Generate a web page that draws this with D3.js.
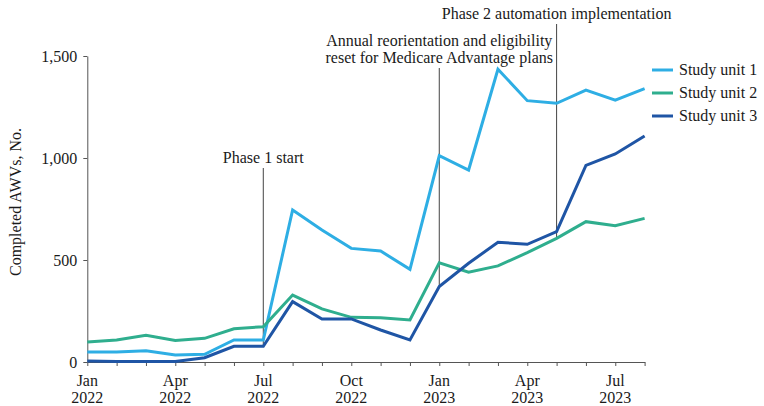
<!DOCTYPE html>
<html>
<head>
<meta charset="utf-8">
<script src="https://cdn.jsdelivr.net/npm/d3@7"></script>
<style>
  html, body { margin: 0; padding: 0; background: #fff; }
  svg { display: block; }
  text { font-family: "Liberation Serif", "Times New Roman", serif; fill: #1a1a1a; }
</style>
</head>
<body>
<svg id="chart" width="764" height="406"></svg>
<script>
// ---- Data ----
const months = ["Jan 2022","Feb 2022","Mar 2022","Apr 2022","May 2022","Jun 2022","Jul 2022","Aug 2022","Sep 2022","Oct 2022","Nov 2022","Dec 2022",
                "Jan 2023","Feb 2023","Mar 2023","Apr 2023","May 2023","Jun 2023","Jul 2023","Aug 2023"];
const seriesNames = ["Study unit 1", "Study unit 2", "Study unit 3"];
const unit1 = [49, 49, 55, 34, 38, 108, 108, 745, 647, 557, 544, 454, 1011, 941, 1435, 1281, 1268, 1333, 1284, 1340];
const unit2 = [98, 108, 131, 106, 116, 163, 173, 328, 260, 219, 217, 206, 486, 440, 471, 536, 606, 688, 668, 704];
const unit3 = [5, 3, 2, 2, 21, 77, 77, 296, 211, 211, 157, 108, 370, 484, 587, 577, 639, 964, 1020, 1108];
const yTicks = [0, 500, 1000, 1500];
const xTickLabels = [["Jan","2022"],["Apr","2022"],["Jul","2022"],["Oct","2022"],["Jan","2023"],["Apr","2023"],["Jul","2023"]];
const xLabelIndex = [0, 3, 6, 9, 12, 15, 18];
const annotations = [
  { month: "Jul 2022", lines: ["Phase 1 start"] },
  { month: "Jan 2023", lines: ["Annual reorientation and eligibility", "reset for Medicare Advantage plans"] },
  { month: "May 2023", lines: ["Phase 2 automation implementation"] }
];
const colors = ["#2eaee4", "#2fae8e", "#1f55a5"];

// ---- Layout ----
const svg = d3.select("#chart");
const x = d3.scaleLinear().domain([0, months.length - 1]).range([87.3, 644.6]);
const y = d3.scaleLinear().domain([0, 1500]).range([362, 56]);
const fs = 16;

// Y axis
const yAxis = svg.append("g").attr("transform", `translate(${x(0)},0)`)
  .call(d3.axisLeft(y).tickValues(yTicks).tickFormat(d3.format(",")).tickSize(4).tickSizeOuter(0));
yAxis.select(".domain").attr("stroke", "#555");
yAxis.selectAll(".tick line").attr("stroke", "#555");
yAxis.selectAll(".tick text").attr("font-size", fs).attr("font-family", "Liberation Serif").attr("x", -10).attr("fill", "#1a1a1a");

// X axis
const xAxis = svg.append("g").attr("transform", `translate(0,${y(0)})`)
  .call(d3.axisBottom(x).tickValues(d3.range(months.length)).tickFormat("").tickSize(4).tickSizeOuter(0));
xAxis.select(".domain").attr("stroke", "#555");
xAxis.selectAll(".tick line").attr("stroke", "#555");
const xl = svg.append("g");
xLabelIndex.forEach((mi, k) => {
  const t = xl.append("text").attr("text-anchor", "middle").attr("font-size", fs)
    .attr("transform", `translate(${x(mi)},0)`);
  t.append("tspan").attr("x", 0).attr("y", 386).text(xTickLabels[k][0]);
  t.append("tspan").attr("x", 0).attr("y", 403).text(xTickLabels[k][1]);
});

// Y axis title
svg.append("text").attr("transform", `translate(21,202) rotate(-90)`)
  .attr("text-anchor", "middle").attr("font-size", fs).text("Completed AWVs, No.");

// Annotation lines
const all = [unit1, unit2, unit3];
const annTop = { "Jul 2022": 168, "Jan 2023": 68, "May 2023": 24 };
const annTextY = { "Jul 2022": [163], "Jan 2023": [46, 63], "May 2023": [19] };
annotations.forEach(a => {
  const i = months.indexOf(a.month);
  const minV = d3.min(all, s => s[i]);
  svg.append("line").attr("x1", x(i)).attr("x2", x(i))
    .attr("y1", annTop[a.month]).attr("y2", y(minV))
    .attr("stroke", "#444").attr("stroke-width", 1);
  a.lines.forEach((ln, j) => {
    svg.append("text").attr("x", x(i)).attr("y", annTextY[a.month][j])
      .attr("text-anchor", "middle").attr("font-size", fs).text(ln);
  });
});

// Lines
const line = d3.line().x((d, i) => x(i)).y(d => y(d));
all.forEach((s, k) => {
  svg.append("path").datum(s).attr("d", line).attr("fill", "none")
    .attr("stroke", colors[k]).attr("stroke-width", 3).attr("stroke-linejoin", "miter");
});

// Legend
const lg = svg.append("g");
seriesNames.forEach((n, k) => {
  const yy = 70 + k * 23;
  lg.append("line").attr("x1", 652).attr("x2", 673).attr("y1", yy).attr("y2", yy)
    .attr("stroke", colors[k]).attr("stroke-width", 3);
  lg.append("text").attr("x", 679).attr("y", yy + 5).attr("font-size", fs).text(n);
});
</script>
</body>
</html>
